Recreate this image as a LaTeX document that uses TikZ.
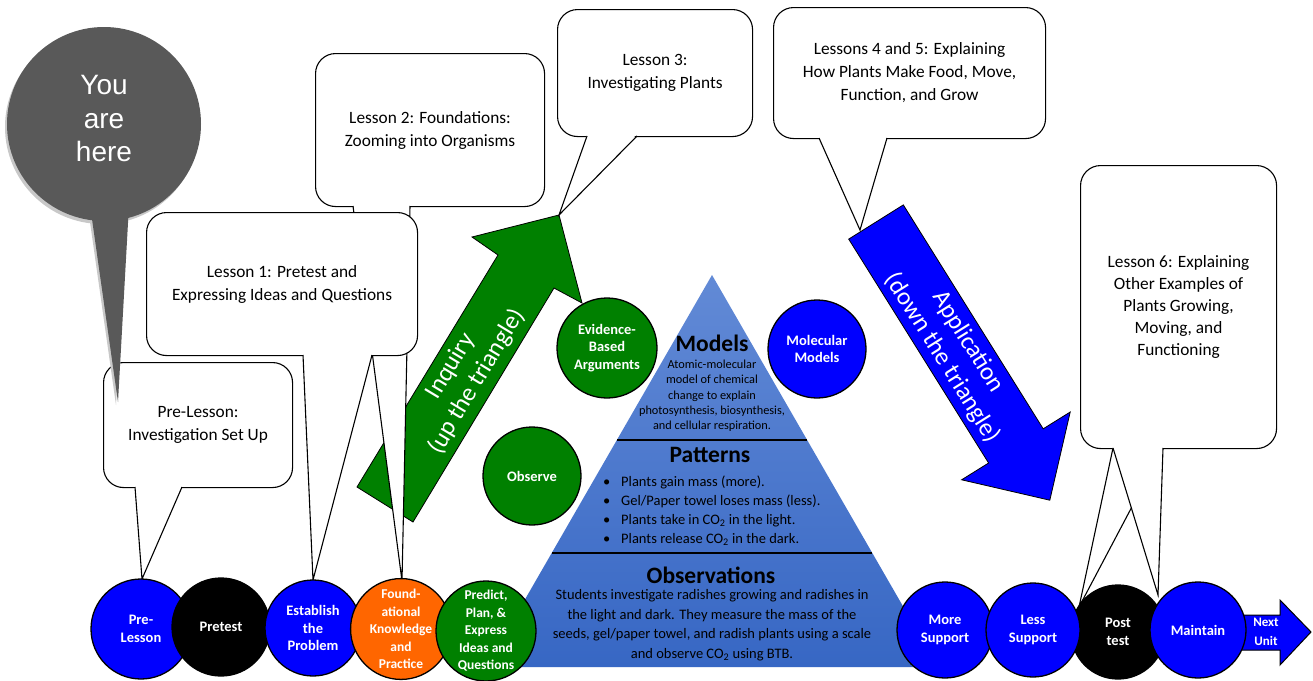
\documentclass[tikz,border=0pt]{standalone}
\usepackage{fontspec}
\setmainfont{Carlito}
\newfontfamily\arialfont{Liberation Sans}
\usetikzlibrary{calc}
\definecolor{pblue}{RGB}{0,0,255}
\definecolor{pgreen}{RGB}{0,128,0}
\definecolor{porange}{RGB}{255,102,0}
\definecolor{pgray}{RGB}{89,89,89}
\definecolor{pshadow}{RGB}{200,200,200}
\definecolor{tritop}{RGB}{98,138,214}
\definecolor{tribot}{RGB}{55,103,196}
\begin{document}
\begin{tikzpicture}[x=1pt,y=-1pt,
  box/.style={draw=black, fill=white, line width=1.1pt, rounded corners=20pt, align=center, inner sep=0pt, anchor=north west, font=\fontsize{17.3}{23}\selectfont},
  tailline/.style={draw=black, line width=1.1pt, line join=miter},
  disc/.style={circle, draw=black, line width=1.3pt, text=white, align=center, inner sep=0pt, font=\bfseries\fontsize{14.5}{17.5}\selectfont},
  bigarrow/.style={draw=black, line width=0.8pt, line join=miter},
  arrowtext/.style={text=white, align=center, inner sep=0pt, font=\fontsize{25}{30.5}\selectfont},
  tribig/.style={text=black, inner sep=0pt, font=\bfseries\fontsize{23.5}{26}\selectfont},
]
\useasboundingbox (0,0) rectangle (1313,680);
\fill[white] (0,0) rectangle (1313,680);

% ---------- pyramid ----------
\coordinate (apex) at (712,275);
\coordinate (baseL) at (486,667);
\coordinate (baseR) at (938,667);
\shade[top color=tritop, bottom color=tribot] (apex) -- (baseR) -- (baseL) -- cycle;
\coordinate (d1L) at (617,440); \coordinate (d1R) at (807,440);
\coordinate (d2L) at (552,553); \coordinate (d2R) at (872,553);
\draw[line width=1.2pt] (d1L) -- (d1R);
\draw[line width=1.2pt] (d2L) -- (d2R);

\node[tribig] (models) at (712,343) {Models};
\node[align=center, inner sep=0pt, font=\fontsize{12.3}{15.3}\selectfont] (modtxt) at (712,396)
  {Atomic-molecular\\model of chemical\\change to explain\\photosynthesis, biosynthesis,\\and cellular respiration.};
\node[tribig] (patterns) at (710,455) {Patterns};
\node[anchor=west, align=left, inner sep=0pt, font=\fontsize{14.5}{19}\selectfont] (pattxt) at (603,511)
  {\makebox[18pt][l]{\textbullet}Plants gain mass (more).\\
   \makebox[18pt][l]{\textbullet}Gel/Paper towel loses mass (less).\\
   \makebox[18pt][l]{\textbullet}Plants take in CO\textsubscript{2} in the light.\\
   \makebox[18pt][l]{\textbullet}Plants release CO\textsubscript{2} in the dark.};
\node[tribig] (observations) at (711,575) {Observations};
\node[align=center, inner sep=0pt, font=\fontsize{14.5}{19.5}\selectfont] (obstxt) at (712,625)
  {Students investigate radishes growing and radishes in\\the light and dark. They measure the mass of the\\seeds, gel/paper towel, and radish plants using a scale\\and observe CO\textsubscript{2} using BTB.};

% ---------- green inquiry arrow ----------
\fill[pgreen] (357,487) -- (498,255) -- (472,237) -- (559,215) -- (582,303) -- (554,288) -- (413,522) -- cycle;
\draw[bigarrow] (357,487) -- (498,255) -- (472,237) -- (559,215) -- (582,303) -- (554,288) -- (413,522) -- cycle;
\node[arrowtext, rotate=58.9] (inq) at (464,374) {Inquiry\\(up the triangle)};

% ---------- blue application arrow ----------
\fill[pblue] (848.7,239.1) -- (903.3,204.9) -- (1043.2,428.8) -- (1070.2,412) -- (1049.8,500.2) -- (961.6,479.8) -- (988.6,463) -- cycle;
\draw[bigarrow] (848.7,239.1) -- (903.3,204.9) -- (1043.2,428.8) -- (1070.2,412) -- (1049.8,500.2) -- (961.6,479.8) -- (988.6,463) -- cycle;
\node[arrowtext, rotate=-58] (app) at (955,350) {Application\\(down the triangle)};

% ---------- callouts ----------
% Lesson 2
\node[box, minimum width=229, minimum height=153] (l2) at (315,53) {Lesson 2: Foundations:\\Zooming into Organisms};
\coordinate (l2a) at (353,206); \coordinate (l2b) at (410,206); \coordinate (l2t) at (402,581);
\fill[white] ([yshift=2pt]l2a) -- (l2t) -- ([yshift=2pt]l2b) -- cycle;
\draw[tailline] (l2a) -- (l2t) -- (l2b);
% Lesson 1
\node[box, minimum width=271, minimum height=143] (l1) at (146,212) {Lesson 1: Pretest and\\Expressing Ideas and Questions};
\coordinate (l1a) at (303,355); \coordinate (l1b) at (372,355); \coordinate (l1t) at (313,580);
\fill[white] ([yshift=2pt]l1a) -- (l1t) -- ([yshift=2pt]l1b) -- cycle;
\draw[tailline] (l1a) -- (l1t) -- (l1b);
% Pre-Lesson
\node[box, minimum width=189, minimum height=125] (pre) at (103,362) {Pre-Lesson:\\Investigation Set Up};
\coordinate (prea) at (135,487); \coordinate (preb) at (182,487); \coordinate (pret) at (142,579);
\fill[white] ([yshift=2pt]prea) -- (pret) -- ([yshift=2pt]preb) -- cycle;
\draw[tailline] (prea) -- (pret) -- (preb);
% Lesson 3
\node[box, minimum width=195, minimum height=127] (l3) at (557,9) {Lesson 3:\\Investigating Plants};
\coordinate (l3a) at (587,136); \coordinate (l3b) at (637,136); \coordinate (l3t) at (559,215);
\fill[white] ([yshift=2pt]l3a) -- (l3t) -- ([yshift=2pt]l3b) -- cycle;
\draw[tailline] (l3a) -- (l3t) -- (l3b);
% Lessons 4 and 5
\node[box, minimum width=272, minimum height=131] (l45) at (773,7) {Lessons 4 and 5: Explaining\\How Plants Make Food, Move,\\Function, and Grow};
\coordinate (l45a) at (819,138); \coordinate (l45b) at (887,138); \coordinate (l45t) at (860,230);
\fill[white] ([yshift=2pt]l45a) -- (l45t) -- ([yshift=2pt]l45b) -- cycle;
\draw[tailline] (l45a) -- (l45t) -- (l45b);
% Lesson 6
\node[box, minimum width=196, minimum height=283, font=\fontsize{17.3}{22}\selectfont] (l6) at (1080,165) {Lesson 6: Explaining\\Other Examples of\\Plants Growing,\\Moving, and\\Functioning};
\coordinate (l6a) at (1113,448); \coordinate (l6b) at (1163,448);
\coordinate (l6t1) at (1079,607); \coordinate (l6t2) at (1158,595);
\fill[white] ([yshift=2pt]l6a) -- (l6t1) -- ([yshift=2pt]l6b) -- cycle;
\draw[tailline] (l6a) -- (l6t1) -- (l6b);
\fill[white] ([yshift=2pt]l6a) -- (l6t2) -- ([yshift=2pt]l6b) -- cycle;
\draw[tailline] (l6a) -- (l6t2) -- (l6b);

% ---------- you are here ----------
\begin{scope}[shift={(-2,3)}]
\fill[pshadow] (104,124) circle (97);
\fill[pshadow] (90,205) -- (118,402) -- (129,205) -- cycle;
\end{scope}
\fill[pgray] (104,124) circle (97);
\fill[pgray] (90,205) -- (118,402) -- (129,205) -- cycle;
\node[text=white, align=center, inner sep=0pt, font=\arialfont\fontsize{28}{33.5}\selectfont] (yah) at (104,119) {You\\are\\here};

% ---------- circles around pyramid ----------
\node[disc, fill=pgreen, minimum size=100] (eba) at (607,348) {Evidence-\\Based\\Arguments};
\node[disc, fill=pblue, minimum size=98] (molm) at (817,349) {Molecular\\Models};
\node[disc, fill=pgreen, minimum size=98] (obsv) at (532,476) {Observe};

% ---------- next unit arrow ----------
\fill[pblue] (1232,615) -- (1280,615) -- (1280,600) -- (1311,632) -- (1280,665) -- (1280,650) -- (1232,650) -- cycle;
\draw[line width=1pt, line join=miter] (1232,615) -- (1280,615) -- (1280,600) -- (1311,632) -- (1280,665) -- (1280,650) -- (1232,650);
\node[text=white, align=center, inner sep=0pt, font=\bfseries\fontsize{13}{19}\selectfont] (nu) at (1266,632) {Next\\Unit};

% ---------- bottom row ----------
\node[disc, fill=pblue, minimum size=100] (c1) at (141,629) {Pre-\\Lesson};
\node[disc, fill=black, minimum size=98] (c2) at (221,627) {Pretest};
\node[disc, fill=pblue, minimum size=96] (c3) at (313,628) {Establish\\the\\Problem};
\node[disc, fill=porange, minimum size=94, font=\bfseries\fontsize{13.5}{17.5}\selectfont] (c4) at (401,629) {Found-\\ational\\Knowledge\\and\\Practice};
\node[disc, fill=pgreen, minimum size=100, font=\bfseries\fontsize{13.5}{17.5}\selectfont] (c5) at (486,631) {Predict,\\Plan, \&\\Express\\Ideas and\\Questions};

\node[disc, fill=pblue, minimum size=96] (c6) at (945,630) {More\\Support};
\node[disc, fill=black, minimum size=94] (c8) at (1118,632) {Post\\test};
\node[disc, fill=pblue, minimum size=94] (c7) at (1033,630) {Less\\Support};
\node[disc, fill=pblue, minimum size=96] (c9) at (1198,630) {Maintain};
\end{tikzpicture}
\end{document}
